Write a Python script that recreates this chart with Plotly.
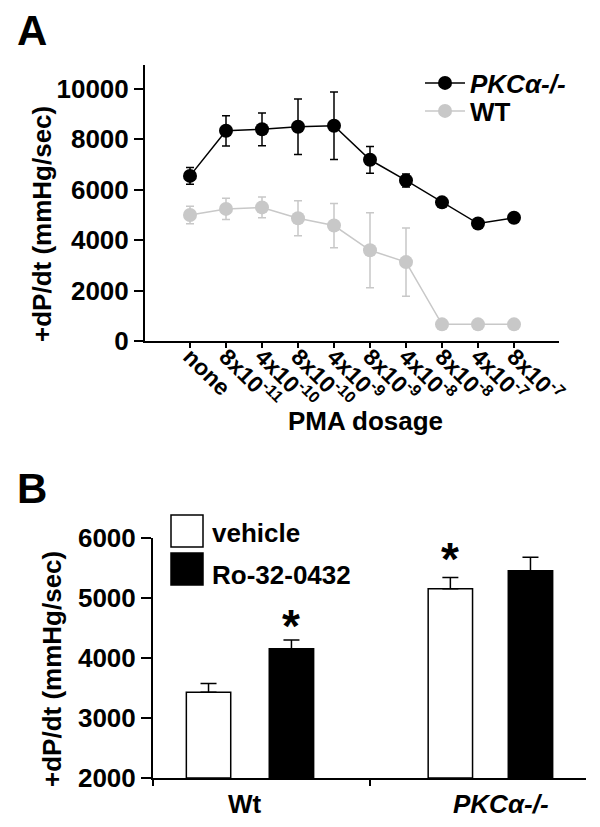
import plotly.graph_objects as go

# ---- panel A data ----
doses = ["none", "8x10<sup>-11</sup>", "4x10<sup>-10</sup>", "8x10<sup>-10</sup>",
         "4x10<sup>-9</sup>", "8x10<sup>-9</sup>", "4x10<sup>-8</sup>", "8x10<sup>-8</sup>",
         "4x10<sup>-7</sup>", "8x10<sup>-7</sup>"]
pkc_vals = [6550, 8340, 8400, 8500, 8540, 7190, 6370, 5500, 4660, 4890]
pkc_err = [330, 600, 650, 1100, 1340, 530, 260, 0, 0, 0]
wt_vals = [5000, 5240, 5300, 4870, 4580, 3600, 3130, 660, 660, 660]
wt_err = [350, 420, 410, 690, 880, 1490, 1350, 0, 0, 0]
a_ticks = [0, 2000, 4000, 6000, 8000, 10000]

# ---- panel B data ----
groups = ["Wt", "PKCα-/-"]
vehicle_vals = [3430, 5155]
vehicle_err = [145, 185]
ro_vals = [4155, 5455]
ro_err = [145, 225]
b_ticks = [2000, 3000, 4000, 5000, 6000]

FONT = "Liberation Sans"
GRAY = "rgb(200,200,200)"
OFF = 8  # page body margin
W, H = 600 - OFF, 827 - OFF


def px(x):
    return (x - OFF) / W


def py(y):
    return 1 - (y - OFF) / H


fig = go.Figure()

# panel A lines
fig.add_trace(go.Scatter(
    x=list(range(len(doses))), y=pkc_vals, name="<i>PKCα-/-</i>",
    mode="lines+markers", line=dict(color="black", width=1.5),
    marker=dict(color="black", size=14),
    error_y=dict(type="data", array=pkc_err, color="black", thickness=1.5, width=4),
    xaxis="x", yaxis="y", legend="legend"))
fig.add_trace(go.Scatter(
    x=list(range(len(doses))), y=wt_vals, name="WT",
    mode="lines+markers", line=dict(color=GRAY, width=1.5),
    marker=dict(color=GRAY, size=14),
    error_y=dict(type="data", array=wt_err, color=GRAY, thickness=1.5, width=4),
    xaxis="x", yaxis="y", legend="legend2"))

# panel B bars (per-bar offsets in category units, matching the original spacing)
veh_offset = [-0.346, -0.229]
ro_offset = [0.037, 0.141]
bar_w = 0.205
fig.add_trace(go.Bar(
    x=groups, y=[v - 2000 for v in vehicle_vals], base=2000, name="vehicle",
    offset=veh_offset, width=bar_w,
    marker=dict(color="white", line=dict(color="black", width=1.5)),
    error_y=dict(type="data", array=vehicle_err, arrayminus=[0, 0], symmetric=False,
                 color="black", thickness=1.5, width=8),
    showlegend=False, xaxis="x2", yaxis="y2"))
fig.add_trace(go.Bar(
    x=groups, y=[v - 2000 for v in ro_vals], base=2000, name="Ro-32-0432",
    offset=ro_offset, width=bar_w,
    marker=dict(color="black", line=dict(color="black", width=1.5)),
    error_y=dict(type="data", array=ro_err, arrayminus=[0, 0], symmetric=False,
                 color="black", thickness=1.5, width=8),
    showlegend=False, xaxis="x2", yaxis="y2"))

axis_font = dict(family=FONT, size=26, color="black", weight="bold")

annotations = [
    dict(text="A", x=px(32), y=py(30), font=dict(family=FONT, size=42, weight="bold")),
    dict(text="B", x=px(32), y=py(488), font=dict(family=FONT, size=42, weight="bold")),
    dict(text="+dP/dt (mmHg/sec)", x=px(42), y=py(224), textangle=-90, font=axis_font),
    dict(text="+dP/dt (mmHg/sec)", x=px(52), y=py(669), textangle=-90, font=axis_font),
    dict(text="PMA dosage", x=px(365), y=py(421), font=axis_font),
    dict(text="vehicle", x=px(210), y=py(533), xanchor="left", font=axis_font),
    dict(text="Ro-32-0432", x=px(210), y=py(575), xanchor="left", font=axis_font),
]
for a in annotations:
    a.setdefault("xref", "paper")
    a.setdefault("yref", "paper")
    a.setdefault("xanchor", "center")
    a.setdefault("yanchor", "middle")
    a["showarrow"] = False

# group labels and significance stars for panel B
label_shift = [-16, 23]
for i, g in enumerate(groups):
    name = g if i == 0 else "<i>PKCα-/-</i>"
    annotations.append(dict(text=name, x=i, y=2000, xref="x2", yref="y2",
                            xshift=label_shift[i], yshift=-26, showarrow=False,
                            font=axis_font, xanchor="center", yanchor="middle"))
star_pts = [(0 + ro_offset[0] + bar_w / 2, ro_vals[0] + ro_err[0], -14),
            (1 + veh_offset[1] + bar_w / 2, vehicle_vals[1] + vehicle_err[1], -9)]
for sx, sy, sh in star_pts:
    annotations.append(dict(text="*", x=sx, y=sy, xref="x2", yref="y2",
                            yshift=sh, showarrow=False, xanchor="center", yanchor="bottom",
                            font=dict(family=FONT, size=46, weight="bold")))

shapes = [
    dict(type="rect", xref="paper", yref="paper", x0=px(171), x1=px(203), y0=py(515), y1=py(547),
         fillcolor="white", line=dict(color="black", width=1.5)),
    dict(type="rect", xref="paper", yref="paper", x0=px(171), x1=px(203), y0=py(553), y1=py(585),
         fillcolor="black", line=dict(color="black", width=1.5)),
]

leg_common = dict(xanchor="left", yanchor="middle", font=axis_font,
                  bgcolor="rgba(0,0,0,0)", itemwidth=40, borderwidth=0)

fig.update_layout(
    width=W, height=H, margin=dict(l=0, r=0, t=0, b=0, autoexpand=False),
    paper_bgcolor="white", plot_bgcolor="white",
    font=dict(family=FONT, color="black"),
    xaxis=dict(domain=[px(145), px(559)], anchor="y", range=[-1.25, 10.25], automargin=False,
               tickmode="array", tickvals=list(range(len(doses))), ticktext=doses,
               tickangle=45, tickfont=dict(family=FONT, size=23, weight="bold"),
               ticklabelstandoff=-14,
               showline=True, linecolor="black", linewidth=2, ticks="outside",
               ticklen=5, tickwidth=1.5, tickcolor="black", showgrid=False, zeroline=False),
    yaxis=dict(domain=[py(341), py(65)], anchor="x", range=[0, 10950], automargin=False,
               tickmode="array", tickvals=a_ticks, ticktext=[str(t) for t in a_ticks],
               tickfont=axis_font,
               showline=True, linecolor="black", linewidth=2, ticks="outside",
               ticklen=9, tickwidth=2, tickcolor="black", showgrid=False, zeroline=False),
    xaxis2=dict(domain=[px(153), px(586)], anchor="y2", type="category", automargin=False,
                range=[-0.5, 1.5], tickson="boundaries", showticklabels=False,
                showline=True, linecolor="black", linewidth=2, ticks="outside",
                ticklen=6, tickwidth=1.5, tickcolor="black", showgrid=False),
    yaxis2=dict(domain=[py(778), py(538)], anchor="x2", range=[2000, 6000], automargin=False,
                tickmode="array", tickvals=b_ticks, ticktext=[str(t) for t in b_ticks],
                tickfont=axis_font,
                showline=True, linecolor="black", linewidth=2, ticks="outside",
                ticklen=10, tickwidth=2, tickcolor="black", showgrid=False, zeroline=False),
    barmode="overlay",
    legend=dict(x=px(420), y=py(83), **leg_common),
    legend2=dict(x=px(420), y=py(111), **leg_common),
    annotations=annotations,
    shapes=shapes,
)

fig.write_html("out.html")
